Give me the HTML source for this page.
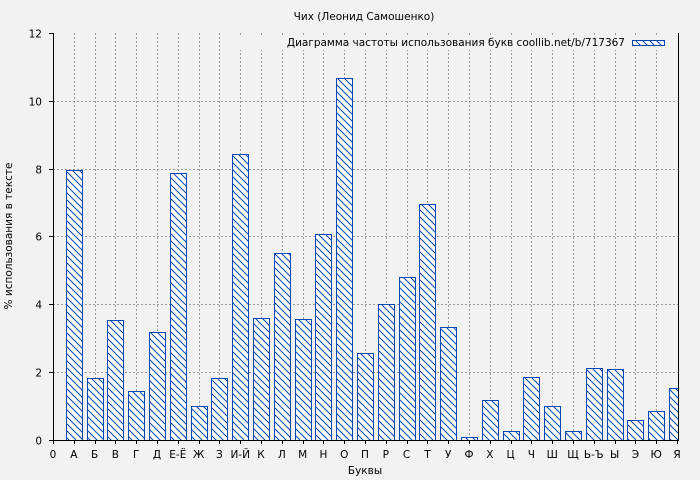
<!DOCTYPE html>
<html><head><meta charset="utf-8"><style>body{margin:0;background:#f2f2f2}svg{display:block}text{font-family:"DejaVu Sans","Liberation Sans",sans-serif;fill:#000}</style></head><body>
<svg width="700" height="480" viewBox="0 0 700 480" xmlns="http://www.w3.org/2000/svg">
<defs>
<pattern id="h" width="7" height="7" patternUnits="userSpaceOnUse"><rect width="7" height="7" fill="#fff"/><path d="M-1,-1 L8,8 M-1,6 L1,8 M6,-1 L8,1" stroke="#0047b3" stroke-width="1"/></pattern>
<clipPath id="c"><rect x="53" y="33" width="625" height="407"/></clipPath>
</defs>
<rect width="700" height="480" fill="#f2f2f2"/>
<text x="364" y="20" font-size="10.5" text-anchor="middle">Чих (Леонид Самошенко)</text>
<g id="grid" stroke="#999" stroke-dasharray="2,2" stroke-width="1"></g>
<rect x="240" y="35" width="432" height="15" fill="#f2f2f2"/>
<g id="bars" clip-path="url(#c)"></g>
<path d="M53.5,33 V440.5 H678.5 V33" fill="none" stroke="#000" stroke-width="1"/>
<g id="ticks" stroke="#000"></g>
<g id="lab" font-size="10.5"></g>
<text x="625" y="46" font-size="10.5" text-anchor="end">Диаграмма частоты использования букв coollib.net/b/717367</text>
<rect x="632.5" y="40.5" width="32" height="5" fill="url(#h)" stroke="#0047b3"/>
<text x="365" y="474" font-size="10.5" text-anchor="middle">Буквы</text>
<text transform="translate(12,236) rotate(-90)" font-size="10.5" text-anchor="middle">% использования в тексте</text>
</svg>
<script>
var L=["0","А","Б","В","Г","Д","Е-Ё","Ж","З","И-Й","К","Л","М","Н","О","П","Р","С","Т","У","Ф","Х","Ц","Ч","Ш","Щ","Ь-Ъ","Ы","Э","Ю","Я"];
var V=[null,7.96,1.83,3.54,1.44,3.18,7.87,1.0,1.83,8.43,3.6,5.51,3.57,6.07,10.67,2.56,4.01,4.8,6.96,3.33,0.09,1.18,0.27,1.86,1.0,0.27,2.12,2.09,0.59,0.85,1.53];
var ns="http://www.w3.org/2000/svg";
function el(p,t,a,tx){var e=document.createElementNS(ns,t);for(var k in a)e.setAttribute(k,a[k]);if(tx)e.textContent=tx;document.getElementById(p).appendChild(e);}
var sx=20.8,y0=440,sy=33.92;
for(var i=0;i<=30;i++){var x=53+i*sx;
 if(i>0&&i<30)el("grid","line",{x1:Math.round(x)+.5,x2:Math.round(x)+.5,y1:33,y2:440});
 el("ticks","line",{x1:Math.round(x)+.5,x2:Math.round(x)+.5,y1:440,y2:444});
 el("lab","text",{x:x,y:458,"text-anchor":"middle"},L[i]);
 if(V[i]!=null){var h=V[i]*sy;el("bars","rect",{x:Math.round(x-8)+.5,y:Math.round(y0-h)+.5,width:16,height:Math.round(h),fill:"url(#h)",stroke:"#0047b3","stroke-width":1});}
}
for(var v=0;v<=12;v+=2){var y=Math.round(y0-v*sy)+.5;
 if(v>0&&v<12)el("grid","line",{x1:53,x2:678,y1:y,y2:y});
 el("ticks","line",{x1:49,x2:53,y1:y,y2:y});
 el("lab","text",{x:42,y:y+4,"text-anchor":"end"},String(v));}
</script>
</body></html>
